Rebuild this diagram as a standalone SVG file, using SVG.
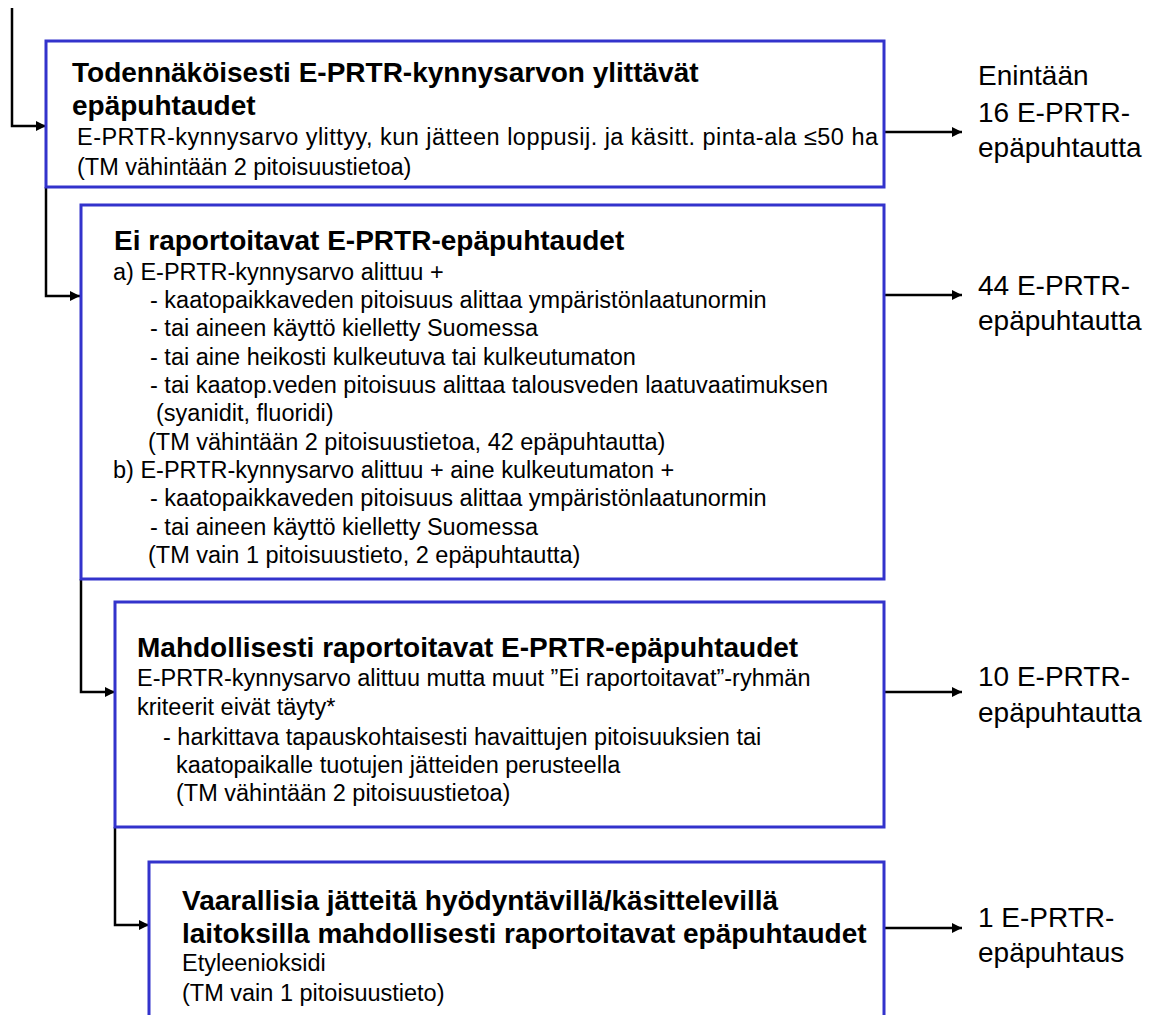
<svg xmlns="http://www.w3.org/2000/svg" width="1149" height="1015" viewBox="0 0 1149 1015">
<defs>
<style>
.box{fill:#fff;stroke:#3333cc;stroke-width:3}
.t{font-family:"Liberation Sans",Arial,sans-serif;fill:#000}
.h{font-size:28px;font-weight:bold}
.b{font-size:23.5px}
.r{font-size:28px}
.c{fill:none;stroke:#000;stroke-width:2.5}
</style>
<marker id="ah" viewBox="0 0 10 10" refX="10" refY="5" markerWidth="4" markerHeight="4" orient="auto" markerUnits="strokeWidth">
<path d="M0,0 L10,5 L0,10 z" fill="#000"/>
</marker>
</defs>
<rect width="1149" height="1015" fill="#fff"/>
<g id="connectors">
<path class="c" d="M12,8 V126 H46" marker-end="url(#ah)"/>
<path class="c" d="M46,187 V296 H80" marker-end="url(#ah)"/>
<path class="c" d="M81,579 V692 H115" marker-end="url(#ah)"/>
<path class="c" d="M115,827 V925 H149" marker-end="url(#ah)"/>
<path class="c" d="M884,132 H962" marker-end="url(#ah)"/>
<path class="c" d="M884,295 H962" marker-end="url(#ah)"/>
<path class="c" d="M884,692 H962" marker-end="url(#ah)"/>
<path class="c" d="M884,928 H962" marker-end="url(#ah)"/>
</g>
<g id="node1">
<rect class="box" x="46" y="41" width="838" height="146"/>
<text class="t h" x="72" y="82">Todennäköisesti E-PRTR-kynnysarvon ylittävät</text>
<text class="t h" x="72" y="115">epäpuhtaudet</text>
<text class="t b" x="77" y="145" textLength="801" lengthAdjust="spacing">E-PRTR-kynnysarvo ylittyy, kun jätteen loppusij. ja käsitt. pinta-ala ≤50 ha</text>
<text class="t b" x="77" y="175">(TM vähintään 2 pitoisuustietoa)</text>
</g>
<g id="node2">
<rect class="box" x="81" y="205" width="803" height="374"/>
<text class="t h" x="114" y="250">Ei raportoitavat E-PRTR-epäpuhtaudet</text>
<text class="t b" x="113" y="280">a) E-PRTR-kynnysarvo alittuu +</text>
<text class="t b" x="150" y="308">- kaatopaikkaveden pitoisuus alittaa ympäristönlaatunormin</text>
<text class="t b" x="150" y="336">- tai aineen käyttö kielletty Suomessa</text>
<text class="t b" x="150" y="365">- tai aine heikosti kulkeutuva tai kulkeutumaton</text>
<text class="t b" x="150" y="393">- tai kaatop.veden pitoisuus alittaa talousveden laatuvaatimuksen</text>
<text class="t b" x="156" y="421">(syanidit, fluoridi)</text>
<text class="t b" x="148" y="450">(TM vähintään 2 pitoisuustietoa, 42 epäpuhtautta)</text>
<text class="t b" x="113" y="478">b) E-PRTR-kynnysarvo alittuu + aine kulkeutumaton +</text>
<text class="t b" x="150" y="506">- kaatopaikkaveden pitoisuus alittaa ympäristönlaatunormin</text>
<text class="t b" x="150" y="535">- tai aineen käyttö kielletty Suomessa</text>
<text class="t b" x="148" y="563">(TM vain 1 pitoisuustieto, 2 epäpuhtautta)</text>
</g>
<g id="node3">
<rect class="box" x="115" y="602" width="769" height="225"/>
<text class="t h" x="137" y="657">Mahdollisesti raportoitavat E-PRTR-epäpuhtaudet</text>
<text class="t b" x="137" y="686">E-PRTR-kynnysarvo alittuu mutta muut ”Ei raportoitavat”-ryhmän</text>
<text class="t b" x="137" y="715">kriteerit eivät täyty*</text>
<text class="t b" x="163" y="745">- harkittava tapauskohtaisesti havaittujen pitoisuuksien tai</text>
<text class="t b" x="176" y="773">kaatopaikalle tuotujen jätteiden perusteella</text>
<text class="t b" x="176" y="801">(TM vähintään 2 pitoisuustietoa)</text>
</g>
<g id="node4">
<rect class="box" x="149" y="862" width="735" height="200"/>
<text class="t h" x="182" y="910">Vaarallisia jätteitä hyödyntävillä/käsittelevillä</text>
<text class="t h" x="182" y="943">laitoksilla mahdollisesti raportoitavat epäpuhtaudet</text>
<text class="t b" x="182" y="971">Etyleenioksidi</text>
<text class="t b" x="182" y="1001">(TM vain 1 pitoisuustieto)</text>
</g>
<g id="out1">
<text class="t r" x="978" y="85">Enintään</text>
<text class="t r" x="978" y="122">16 E-PRTR-</text>
<text class="t r" x="978" y="157">epäpuhtautta</text>
</g>
<g id="out2">
<text class="t r" x="978" y="295">44 E-PRTR-</text>
<text class="t r" x="978" y="330">epäpuhtautta</text>
</g>
<g id="out3">
<text class="t r" x="978" y="686">10 E-PRTR-</text>
<text class="t r" x="978" y="722">epäpuhtautta</text>
</g>
<g id="out4">
<text class="t r" x="978" y="927">1 E-PRTR-</text>
<text class="t r" x="978" y="962">epäpuhtaus</text>
</g>
</svg>
